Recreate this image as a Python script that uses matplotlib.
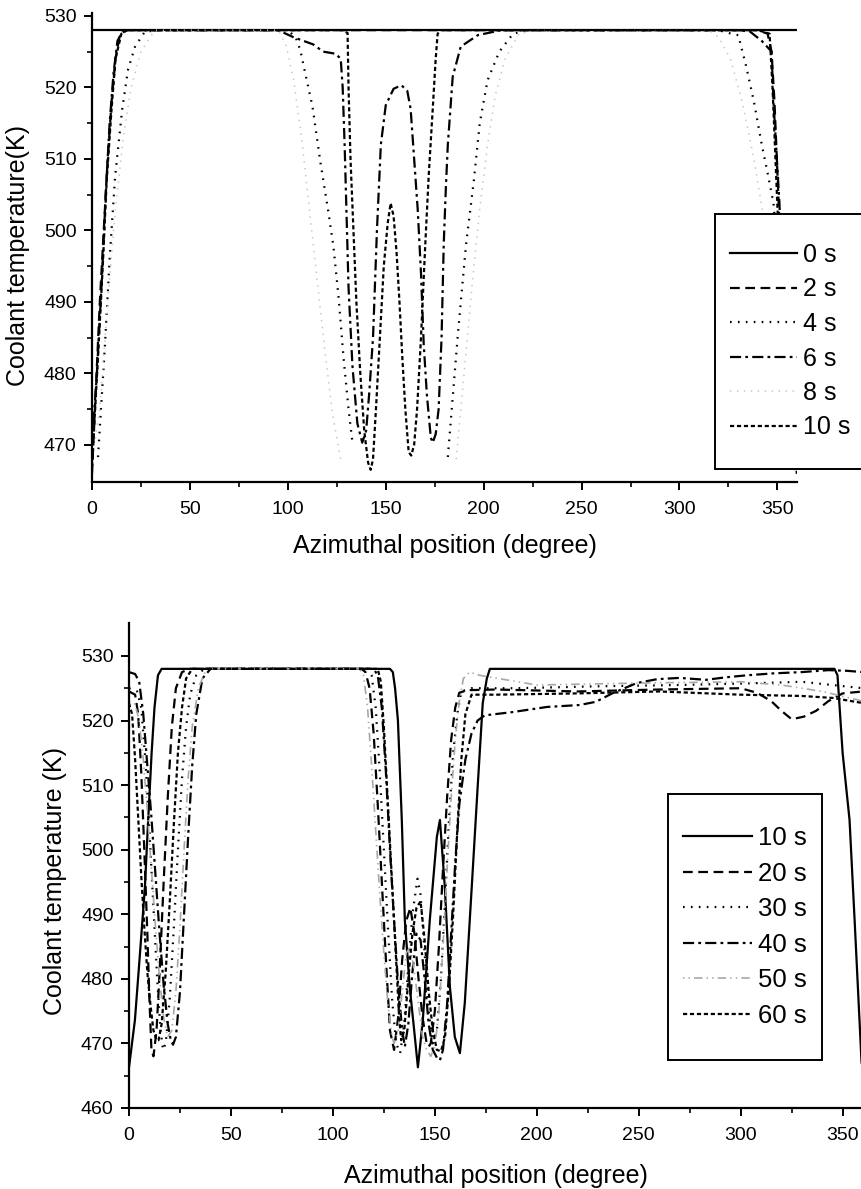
import numpy as np
import matplotlib
matplotlib.use('Agg')
import matplotlib.pyplot as plt
from matplotlib.patches import Rectangle

plt.rcParams['font.family'] = ['Liberation Sans', 'DejaVu Sans']
plt.rcParams['lines.scale_dashes'] = False

nan = np.nan

# ================= 上图数据 (0-10 s) =================
top_labels = ['0 s', '2 s', '4 s', '6 s', '8 s', '10 s']

t0_x = [0, 360]
t0_y = [528, 528]

t2_x = [0, 2, 4, 6, 8, 10, 12, 14, 17, 340, 345, 347, 348.5, 350, 351.5, 354, 357, 360]
t2_y = [466, 478, 490, 500, 510, 518, 524, 527, 528, 528, 527.5, 525, 518, 508, 498, 482, 471, 466]

t4_x = [0, 3, 6.7, 9, 11.8, 15.4, 18.4, 22, 27, 35, 100, 104, 106.4, 108, 112.6, 116.7, 120.8,
        123.3, 125.9, 128.5, 131, 133, nan, 181.7, 184, 187, 191, 195, 198, 202, 208, 215, 222,
        320, 325, 330, 334, 338, 342, 345, 348, 352, 356, 360]
t4_y = [468, 468, 484.3, 496, 507.5, 516.9, 522.5, 525.7, 527.8, 528, 528, 527, 525.2, 523.1, 517.3,
        509.4, 502.4, 497.7, 490.7, 482, 475, 470.3, nan, 468.3, 476, 486, 498, 507, 515, 521, 525,
        527.5, 528, 528, 527.6, 527.3, 523, 518, 512, 508, 503.8, 490, 478, 468]

t6_x = [0, 2.5, 5, 7, 9, 11, 13, 16, 95, 103, 113, 118, 124.4, 127, 128, 129, 130, 131, 133, 135.5,
        138, 140, 141.5, 143.5, 145.5, 147.5, 150, 154, 158, 161, 162.7, 164.5, 166.3, 168, 169.4,
        171, 173, 174, 175.5, 177, 178.5, 179.6, 180.7, 181.7, 184.2, 188.3, 197, 209, 330, 336,
        342, 347, 348, 349.5, 351, 353, 356, 360]
t6_y = [470, 480, 493, 505, 515, 522, 526.5, 528, 528, 527, 526, 525, 524.7, 524, 520, 512, 502, 492,
        481, 473, 470.3, 472, 477, 485, 500, 512, 517.5, 519.8, 520.3, 519.5, 517, 510, 503, 494,
        484, 477, 471, 470.3, 471.5, 475, 485, 498, 506, 512, 521.5, 525.7, 527.3, 528, 528, 527.8,
        526.5, 525, 518, 511, 504, 490, 477, 470]

t8_x = [0, 4, 8, 12, 16, 20, 25, 32, 95, 99, 103, 107, 111, 115, 119, 123, 127, nan,
        186, 190, 194, 198, 202, 206, 211, 218, 226, 315, 320, 326, 332, 338, 344, 350, 356, 360]
t8_y = [468, 475, 490, 503, 513, 520, 525, 528, 528, 526, 521, 513, 503, 493, 483, 474, 468, nan,
        468, 480, 492, 503, 512, 519, 524, 527.5, 528, 528, 527, 524, 518, 510, 500, 488, 476, 468]

t10_x = [0, 3, 5.5, 7.5, 10, 12, 15, 18, 128, 130.5, 131, 132, 133.5, 135, 137, 139, 141, 142.3,
         143.5, 145, 147, 149, 151, 152.5, 154, 155.5, 157, 158.5, 160, 161.7, 163, 164.5, 166,
         168, 170, 172, 174, 175.5, 176.5, 178, 340, 346, 347.5, 349, 350.5, 353, 356, 360]
t10_y = [467, 482, 495, 507, 517, 524, 527.5, 528, 528, 527.6, 520, 510, 500, 490, 480, 472, 467.5,
         466.5, 468, 475, 485, 495, 501, 503.8, 502, 497, 490, 482, 475, 469, 468.5, 470, 475, 485,
         497, 508, 517, 524, 527.5, 528, 528, 527.5, 520, 510, 500, 480, 468, 466]

# ================= 下图数据 (10-60 s) =================
bot_labels = ['10 s', '20 s', '30 s', '40 s', '50 s', '60 s']

b10_x = [0, 2.9, 5.4, 7.8, 9.4, 11.1, 12.5, 14.2, 16, 128, 129.4, 130.5, 131.9, 133.8, 135.3, 137.7,
         140.2, 141.7, 144.1, 147.5, 151, 152.5, 154.9, 157.4, 159.8, 162.3, 164.7, 168.1, 171,
         173.5, 175.5, 177, 346, 347.5, 350, 353.4, 355.9, 359.3, 360]
b10_y = [466.3, 473.6, 484, 494.2, 504.6, 515, 522, 527, 528, 528, 527.5, 525, 520, 504.6, 489,
         478.7, 471, 466.3, 473.6, 489, 502, 504.6, 494.2, 478.7, 471, 468.5, 476.3, 494.2, 509.7,
         522.7, 526.5, 528, 528, 527, 515, 504.6, 489, 467, 466.3]

b20_x = [0, 3, 4.5, 6, 7.5, 9, 10, 11, 12, 13.5, 15, 17, 19, 21, 23, 26, 30, 114, 116, 118, 120,
         122, 124, 126, 128, 130, 132, 134, 136, 138, 140, 142, 144, 146, 147, 148, 150, 152, 154,
         156, 158, 160, 162, 166, 180, 220, 260, 300, 308, 315, 320, 325, 331, 337, 343, 350, 360]
b20_y = [524.5, 524, 521, 512, 500, 487, 477, 469, 468, 472, 481, 495, 508, 519, 525, 527.5, 528,
         528, 527.5, 525, 518, 507, 495, 483, 472, 469, 474, 483, 489, 491, 487, 480, 474, 470,
         469.5, 470, 475, 485, 497, 508, 517, 522, 524.3, 524.7, 524.8, 524.5, 524.8, 525, 524.3,
         523, 521.5, 520.2, 520.6, 521.5, 523, 524.2, 524.5]

b30_x = [0, 4, 6, 8, 10, 12, 14, 15.5, 16.7, 18, 20, 22, 24, 26, 28, 30, 33, 37, 117, 119, 121,
         123, 125, 127, 129, 131, 133, 135, 137, 139, 141.5, 143, 145, 147, 149, 151, 153, 155,
         157, 159, 161, 163, 168, 190, 230, 270, 310, 330, 345, 360]
b30_y = [525, 524.5, 522, 514, 503, 491, 479, 472, 469, 470, 477, 488, 500, 511, 519, 524, 527,
         528, 528, 527, 522, 512, 500, 488, 477, 470, 468.5, 473, 482, 490, 495.5, 493, 484, 475,
         470, 472, 480, 492, 505, 515, 521, 524.5, 525, 525, 525.3, 525.5, 525.8, 526, 525.5, 525]

b40_x = [0, 3, 5, 7, 9, 11, 13, 15, 17, 19, 20.5, 21.6, 23, 25, 27, 29, 31, 33, 36, 40, 120, 122,
         124, 126, 128, 130, 132, 134, 135.3, 137, 139, 141, 143, 145, 147, 149, 151, 152.5, 154,
         156, 158, 160, 162, 165, 168, 171, 174.5, 188, 205, 221, 229, 237, 249, 259, 270, 283,
         293, 303, 316, 330, 343, 352, 360]
b40_y = [527.5, 527.2, 526, 521, 513, 505, 496, 487, 479, 473, 470.5, 469.8, 471, 478, 490, 502,
         513, 521, 526.5, 528, 528, 527, 522, 512, 500, 489, 479, 472, 469.5, 473, 481, 487, 486,
         480, 473, 469, 467.8, 467.4, 469, 476, 487, 498, 507, 514, 518, 520, 520.8, 521.3, 522.1,
         522.4, 522.9, 524.2, 525.8, 526.4, 526.6, 526.3, 526.7, 527, 527.3, 527.5, 527.8, 527.7,
         527.5]

b50_x = [0, 3, 5, 7, 9, 11, 13, 15, 17, 19, 21, 23, 25, 27, 29, 31, 34, 38, 113, 115, 117, 119,
         121, 123, 125, 127, 129, 130, 132, 134, 136, 138, 140, 142, 144, 146, 148, 150, 152, 154,
         156, 158, 160, 162, 164, 167, 172, 200, 250, 300, 320, 340, 360]
b50_y = [523, 522.5, 520, 514, 506, 497, 488, 480, 474, 471, 472, 478, 488, 500, 511, 519, 525, 528,
         528, 527, 522, 513, 503, 493, 484, 476, 471, 470, 472, 478, 484, 485, 481, 476, 471, 469,
         468, 469.5, 475, 485, 497, 508, 517, 523, 526.5, 527.5, 527, 525.5, 525.8, 526, 525.5,
         524.5, 523]

b60_x = [0, 1.5, 3, 4.5, 6, 7.5, 9, 10.5, 12, 13.5, 14.5, 16, 18, 20, 22, 24, 26, 28, 31, 122,
         123.5, 125, 127, 129, 131, 132.5, 133.5, 135, 137, 139, 141, 143, 145, 147, 149, 151, 153,
         155, 157, 159, 161, 163, 165, 168, 180, 220, 260, 300, 330, 345, 360]
b60_y = [522.7, 521, 514, 505, 496, 488, 481, 476, 472, 470.5, 470.5, 473, 481, 492, 504, 515, 522,
         526.5, 528, 528, 526, 519, 507, 495, 483, 474, 470.5, 472, 480, 487, 491, 492, 486, 478, 472,
         469, 468.8, 471, 479, 490, 503, 514, 521, 524, 524, 524.2, 524.5, 524, 523.8, 523.5, 522.7]

# ================= 线型 =================
STYLES = [
    dict(color='black', linestyle='-', lw=1.6),
    dict(color='black', linestyle=(0, (7, 4)), lw=1.6),
    dict(color='black', linestyle=(0, (1.2, 4.5)), lw=1.6),
    dict(color='black', linestyle=(0, (8, 3, 2, 3)), lw=1.6),
    dict(color='#c4c4c4', linestyle=(0, (1, 4)), lw=1.1),
    dict(color='black', linestyle=(0, (3, 2)), lw=1.6),
]
STYLES_BOT = list(STYLES)
STYLES_BOT[4] = dict(color='#a8a8a8', linestyle=(0, (1, 3, 1, 3, 6, 3)), lw=1.2)

W, H = 862, 1189
fig = plt.figure(figsize=(W / 100, H / 100), dpi=100)


def style_axis(ax):
    ax.spines['top'].set_visible(False)
    ax.spines['right'].set_visible(False)
    ax.spines['left'].set_linewidth(1.6)
    ax.spines['bottom'].set_linewidth(1.6)
    ax.set_xticks(np.arange(0, 351, 50))
    ax.set_xticks(np.arange(25, 360, 50), minor=True)
    ax.tick_params(which='major', direction='out', length=6, width=1.4, labelsize=14)
    ax.tick_params(axis='x', which='major', pad=8)
    ax.tick_params(axis='y', which='major', pad=5)
    ax.tick_params(which='minor', direction='out', length=3.5, width=1.2)


def boxed_legend(ax, handles, labels, anchor, fsize, spacing, pad_x, pad_y):
    leg = ax.legend(handles, labels, loc='upper left', bbox_to_anchor=anchor,
                    bbox_transform=fig.transFigure, frameon=False, fontsize=fsize,
                    handlelength=2.68, handletextpad=0.24, labelspacing=spacing,
                    borderpad=0, borderaxespad=0)
    leg.set_zorder(6)
    fig.canvas.draw()
    bb = leg.get_window_extent()
    rect = Rectangle((bb.x0 - pad_x, bb.y0 - pad_y), bb.width + 2 * pad_x, bb.height + 2 * pad_y,
                     transform=None, facecolor='white', edgecolor='black', lw=1.4,
                     zorder=5, clip_on=False)
    ax.add_patch(rect)


# ---------- 上图 ----------
ax1 = fig.add_axes([92 / W, 1 - 482 / H, 705 / W, 469 / H])
top_series = [(t0_x, t0_y), (t2_x, t2_y), (t4_x, t4_y), (t6_x, t6_y), (t8_x, t8_y), (t10_x, t10_y)]
h1 = []
for (xs, ys), st in zip(top_series, STYLES):
    ln, = ax1.plot(xs, ys, **st)
    h1.append(ln)
ax1.set_xlim(0, 360)
ax1.set_ylim(464.8, 530.4)
style_axis(ax1)
ax1.set_yticks(np.arange(470, 531, 10))
ax1.set_yticks(np.arange(475, 530, 10), minor=True)
ax1.set_xlabel('Azimuthal position (degree)', fontsize=18, labelpad=11)
ax1.set_ylabel('Coolant temperature(K)', fontsize=18)
ax1.yaxis.set_label_coords(-0.088, 0.484)
boxed_legend(ax1, h1, top_labels, (730 / W, 1 - 243 / H), 18, 0.42, 15, 29)

# ---------- 下图 ----------
ax2 = fig.add_axes([129 / W, 1 - 1108 / H, 734 / W, 485 / H])
bot_series = [(b10_x, b10_y), (b20_x, b20_y), (b30_x, b30_y), (b40_x, b40_y), (b50_x, b50_y), (b60_x, b60_y)]
h2 = []
for (xs, ys), st in zip(bot_series, STYLES_BOT):
    ln, = ax2.plot(xs, ys, **st)
    h2.append(ln)
ax2.set_xlim(0, 360)
ax2.set_ylim(460, 535.1)
style_axis(ax2)
ax2.set_yticks(np.arange(460, 531, 10))
ax2.set_yticks(np.arange(465, 535, 10), minor=True)
ax2.set_xlabel('Azimuthal position (degree)', fontsize=18, labelpad=14)
ax2.set_ylabel('Coolant temperature (K)', fontsize=18)
ax2.yaxis.set_label_coords(-0.0845, 0.468)
boxed_legend(ax2, h2, bot_labels, (683 / W, 1 - 826 / H), 18.5, 0.45, 15, 32)

fig.savefig('out.png', dpi=100)
